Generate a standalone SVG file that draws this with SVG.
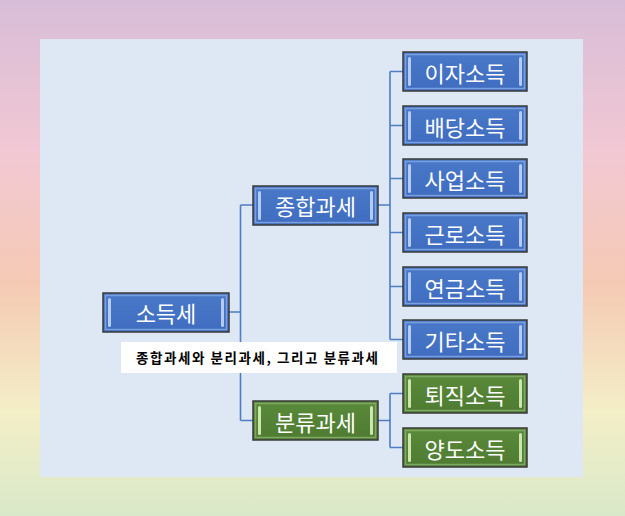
<svg xmlns="http://www.w3.org/2000/svg" width="625" height="516" viewBox="0 0 625 516">
  <defs>
    <linearGradient id="bg" x1="0" y1="0" x2="0" y2="1">
      <stop offset="0" stop-color="#d8bdd8"/>
      <stop offset="0.3" stop-color="#f2c8d3"/>
      <stop offset="0.55" stop-color="#f5cab4"/>
      <stop offset="0.8" stop-color="#f3efc7"/>
      <stop offset="1" stop-color="#d9e8c9"/>
    </linearGradient>
    <linearGradient id="blue" x1="0" y1="0" x2="0" y2="1">
      <stop offset="0" stop-color="#4a79c9"/>
      <stop offset="1" stop-color="#3f6cbf"/>
    </linearGradient>
    <linearGradient id="green" x1="0" y1="0" x2="0" y2="1">
      <stop offset="0" stop-color="#5a8a3a"/>
      <stop offset="1" stop-color="#4e7b31"/>
    </linearGradient>
    <style>
      .b .o { fill: url(#blue); stroke: #3a3a3a; stroke-width: 1.5; }
      .b .i { fill: none; stroke: #7a9fdc; stroke-width: 1.5; }
      .b .bar { fill: #b4ccf2; }
      .g .o { fill: url(#green); stroke: #3a3a3a; stroke-width: 1.5; }
      .g .i { fill: none; stroke: #7fa865; stroke-width: 1.5; }
      .g .bar { fill: #cde6b0; }
      .t { font-family: "Noto Sans CJK KR", "Noto Sans", sans-serif; font-size: 22px; fill: #ffffff; text-anchor: middle; dominant-baseline: central; }
      .conn { fill: none; stroke: #4f7cc4; stroke-width: 1.6; }
      .cap { font-family: "Noto Sans CJK KR", sans-serif; font-size: 13.5px; font-weight: bold; fill: #000000; text-anchor: middle; }
    </style>
  </defs>
  <rect x="0" y="0" width="625" height="516" fill="url(#bg)"/>
  <rect x="40" y="39" width="543" height="438" fill="#dde8f4"/>

  <g id="connectors">
    <path class="conn" d="M229,312 H240.5 M240.5,205 V420.5 M240.5,205 H253 M240.5,420.5 H253"/>
    <path class="conn" d="M378,205 H390 M390,71.5 V339.5 M390,71.5 H403 M390,125.5 H403 M390,178.5 H403 M390,232.5 H403 M390,286.5 H403 M390,339.5 H403"/>
    <path class="conn" d="M378,420.5 H390 M390,393.5 V447.5 M390,393.5 H403 M390,447.5 H403"/>
  </g>

  <g id="n-root" class="b">
    <rect class="o" x="103" y="293" width="126" height="39"/>
    <rect class="i" x="105.5" y="295.5" width="121" height="34"/>
    <rect class="bar" x="108" y="298" width="3" height="29" rx="1.5"/>
    <rect class="bar" x="221" y="298" width="3" height="29" rx="1.5"/>
    <text class="t" x="166" y="312">소득세</text>
  </g>

  <g id="n-jonghap" class="b">
    <rect class="o" x="253" y="186" width="125" height="39"/>
    <rect class="i" x="255.5" y="188.5" width="120" height="34"/>
    <rect class="bar" x="258" y="191" width="3" height="29" rx="1.5"/>
    <rect class="bar" x="370" y="191" width="3" height="29" rx="1.5"/>
    <text class="t" x="315.5" y="205">종합과세</text>
  </g>

  <g id="n-bunryu" class="g">
    <rect class="o" x="253" y="401" width="125" height="39"/>
    <rect class="i" x="255.5" y="403.5" width="120" height="34"/>
    <rect class="bar" x="258" y="406" width="3" height="29" rx="1.5"/>
    <rect class="bar" x="370" y="406" width="3" height="29" rx="1.5"/>
    <text class="t" x="315.5" y="420.5">분류과세</text>
  </g>

  <g id="n-ija" class="b">
    <rect class="o" x="403" y="52" width="124" height="39"/>
    <rect class="i" x="405.5" y="54.5" width="119" height="34"/>
    <rect class="bar" x="408" y="57" width="3" height="29" rx="1.5"/>
    <rect class="bar" x="519" y="57" width="3" height="29" rx="1.5"/>
    <text class="t" x="465" y="71.5">이자소득</text>
  </g>
  <g id="n-baedang" class="b">
    <rect class="o" x="403" y="106" width="124" height="39"/>
    <rect class="i" x="405.5" y="108.5" width="119" height="34"/>
    <rect class="bar" x="408" y="111" width="3" height="29" rx="1.5"/>
    <rect class="bar" x="519" y="111" width="3" height="29" rx="1.5"/>
    <text class="t" x="465" y="125.5">배당소득</text>
  </g>
  <g id="n-saeop" class="b">
    <rect class="o" x="403" y="159" width="124" height="39"/>
    <rect class="i" x="405.5" y="161.5" width="119" height="34"/>
    <rect class="bar" x="408" y="164" width="3" height="29" rx="1.5"/>
    <rect class="bar" x="519" y="164" width="3" height="29" rx="1.5"/>
    <text class="t" x="465" y="178.5">사업소득</text>
  </g>
  <g id="n-geunro" class="b">
    <rect class="o" x="403" y="213" width="124" height="39"/>
    <rect class="i" x="405.5" y="215.5" width="119" height="34"/>
    <rect class="bar" x="408" y="218" width="3" height="29" rx="1.5"/>
    <rect class="bar" x="519" y="218" width="3" height="29" rx="1.5"/>
    <text class="t" x="465" y="232.5">근로소득</text>
  </g>
  <g id="n-yeongeum" class="b">
    <rect class="o" x="403" y="267" width="124" height="39"/>
    <rect class="i" x="405.5" y="269.5" width="119" height="34"/>
    <rect class="bar" x="408" y="272" width="3" height="29" rx="1.5"/>
    <rect class="bar" x="519" y="272" width="3" height="29" rx="1.5"/>
    <text class="t" x="465" y="286.5">연금소득</text>
  </g>
  <g id="n-gita" class="b">
    <rect class="o" x="403" y="320" width="124" height="39"/>
    <rect class="i" x="405.5" y="322.5" width="119" height="34"/>
    <rect class="bar" x="408" y="325" width="3" height="29" rx="1.5"/>
    <rect class="bar" x="519" y="325" width="3" height="29" rx="1.5"/>
    <text class="t" x="465" y="339.5">기타소득</text>
  </g>
  <g id="n-toejik" class="g">
    <rect class="o" x="403" y="374" width="124" height="39"/>
    <rect class="i" x="405.5" y="376.5" width="119" height="34"/>
    <rect class="bar" x="408" y="379" width="3" height="29" rx="1.5"/>
    <rect class="bar" x="519" y="379" width="3" height="29" rx="1.5"/>
    <text class="t" x="465" y="393.5">퇴직소득</text>
  </g>
  <g id="n-yangdo" class="g">
    <rect class="o" x="403" y="428" width="124" height="39"/>
    <rect class="i" x="405.5" y="430.5" width="119" height="34"/>
    <rect class="bar" x="408" y="433" width="3" height="29" rx="1.5"/>
    <rect class="bar" x="519" y="433" width="3" height="29" rx="1.5"/>
    <text class="t" x="465" y="447.5">양도소득</text>
  </g>

  <g id="caption">
    <rect x="121" y="342" width="276" height="31" fill="#ffffff"/>
    <text class="cap" x="257" y="362.5" textLength="242" lengthAdjust="spacing">종합과세와 분리과세, 그리고 분류과세</text>
  </g>
</svg>
